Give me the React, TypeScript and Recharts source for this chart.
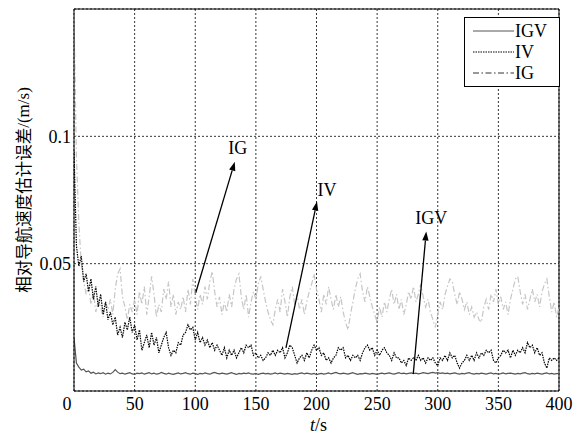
import React from "react"
import { CartesianGrid, Line, LineChart, ReferenceDot, ReferenceLine, XAxis, YAxis } from "recharts"

// sampling step of the recorded series, seconds
const STEP = 2

const igvErr = [
  0.021, 0.011, 0.0094, 0.0082, 0.0086, 0.0075, 0.0079, 0.007, 0.0074, 0.0067,
  0.0071, 0.0068, 0.0072, 0.0066, 0.007, 0.0067, 0.0073, 0.0084, 0.0074, 0.0068,
  0.007, 0.0066, 0.0069, 0.0072, 0.0067, 0.0065, 0.007, 0.0068, 0.0071, 0.0066,
  0.0069, 0.0072, 0.0067, 0.007, 0.0066, 0.0068, 0.0073, 0.0069, 0.0066, 0.007,
  0.0067, 0.0065, 0.0068, 0.0071, 0.0067, 0.0069, 0.0072, 0.0068, 0.0066, 0.007,
  0.0068, 0.0065, 0.0069, 0.0067, 0.0071, 0.0068, 0.0066, 0.007, 0.0073, 0.0069,
  0.0067, 0.007, 0.0068, 0.0066, 0.0069, 0.0072, 0.0068, 0.0065, 0.0069, 0.0067,
  0.007, 0.0068, 0.0071, 0.0067, 0.0066, 0.0069, 0.0065, 0.0068, 0.007, 0.0067,
  0.0069, 0.0066, 0.0068, 0.0071, 0.0067, 0.007, 0.0068, 0.0066, 0.0069, 0.0067,
  0.0065, 0.0068, 0.0066, 0.0069, 0.0071, 0.0067, 0.007, 0.0068, 0.0066, 0.0069,
  0.0064, 0.0067, 0.0069, 0.0066, 0.0068, 0.0071, 0.0067, 0.007, 0.0073, 0.0069,
  0.0067, 0.007, 0.0068, 0.0066, 0.0069, 0.0072, 0.0068, 0.0065, 0.0068, 0.0067,
  0.007, 0.0068, 0.0066, 0.0069, 0.0067, 0.0065, 0.0068, 0.007, 0.0067, 0.0069,
  0.0071, 0.0068, 0.0066, 0.0069, 0.0072, 0.0068, 0.007, 0.0067, 0.0069, 0.0071,
  0.0068, 0.007, 0.0067, 0.0069, 0.0072, 0.007, 0.0068, 0.0071, 0.0073, 0.007,
  0.0072, 0.0069, 0.0071, 0.0068, 0.007, 0.0067, 0.0069, 0.0071, 0.0068, 0.0066,
  0.0069, 0.0067, 0.007, 0.0072, 0.0068, 0.0066, 0.0069, 0.0067, 0.007, 0.0068,
  0.0066, 0.0069, 0.0071, 0.0067, 0.0069, 0.0066, 0.0068, 0.0071, 0.0067, 0.0069,
  0.007, 0.0068, 0.0066, 0.0069, 0.0067, 0.007, 0.0072, 0.0068, 0.0066, 0.0069,
  0.0067, 0.007, 0.0068, 0.0066, 0.0069, 0.0071, 0.0067, 0.0069, 0.0066, 0.0068,
  0.0069,
]

const ivErr = [
  0.094, 0.057, 0.049, 0.053, 0.043, 0.046, 0.039, 0.044, 0.036, 0.041,
  0.033, 0.038, 0.03, 0.035, 0.028, 0.031, 0.026, 0.029, 0.022, 0.025,
  0.021, 0.027, 0.024, 0.029, 0.023, 0.026, 0.02, 0.024, 0.016, 0.019,
  0.022, 0.017, 0.023, 0.018, 0.021, 0.015, 0.018, 0.021, 0.023, 0.017,
  0.014, 0.016, 0.015, 0.019, 0.018, 0.022, 0.023, 0.026, 0.024, 0.025,
  0.02, 0.023, 0.019, 0.021, 0.018, 0.02, 0.017, 0.019, 0.016, 0.018,
  0.016, 0.014, 0.017, 0.013, 0.016, 0.014, 0.016, 0.013, 0.015, 0.017,
  0.015, 0.018, 0.017, 0.018, 0.014, 0.015, 0.013, 0.014, 0.012, 0.013,
  0.015, 0.014, 0.016, 0.014, 0.016, 0.015, 0.017, 0.013, 0.015, 0.018,
  0.017, 0.014, 0.011, 0.013, 0.014, 0.012, 0.015, 0.013, 0.016, 0.018,
  0.016, 0.017, 0.014, 0.015, 0.012, 0.013, 0.011, 0.013, 0.014, 0.017,
  0.016, 0.017, 0.013, 0.014, 0.012, 0.014, 0.013, 0.014, 0.012, 0.015,
  0.017, 0.018, 0.016, 0.017, 0.014, 0.016, 0.014, 0.016, 0.017, 0.015,
  0.014, 0.012, 0.015, 0.013, 0.013, 0.011, 0.012, 0.01, 0.013, 0.012,
  0.013, 0.012, 0.014, 0.012, 0.013, 0.011, 0.013, 0.012, 0.013, 0.011,
  0.01, 0.013, 0.012, 0.014, 0.012, 0.015, 0.013, 0.014, 0.011, 0.009,
  0.011, 0.012, 0.014, 0.012, 0.014, 0.012, 0.015, 0.013, 0.015, 0.014,
  0.016, 0.015, 0.016, 0.012, 0.011, 0.013, 0.014, 0.016, 0.015, 0.016,
  0.013, 0.016, 0.014, 0.016, 0.015, 0.017, 0.015, 0.019, 0.017, 0.018,
  0.015, 0.017, 0.014, 0.015, 0.011, 0.009, 0.013, 0.012, 0.013, 0.012,
  0.013,
]

const igErr = [
  0.148, 0.092, 0.066, 0.05, 0.043, 0.038, 0.041, 0.034, 0.039, 0.031,
  0.036, 0.033, 0.029, 0.035, 0.032, 0.036, 0.03, 0.04, 0.046, 0.048,
  0.037, 0.033, 0.028, 0.034, 0.031, 0.036, 0.03, 0.039, 0.034, 0.041,
  0.03, 0.037, 0.045, 0.038, 0.029, 0.034, 0.031, 0.04, 0.036, 0.043,
  0.033, 0.038, 0.03, 0.035, 0.032, 0.037, 0.031, 0.04, 0.034, 0.044,
  0.037, 0.032, 0.038, 0.034, 0.041, 0.036, 0.043, 0.047, 0.039, 0.033,
  0.037, 0.03, 0.035, 0.031, 0.038, 0.033, 0.04, 0.044, 0.046, 0.037,
  0.032, 0.038, 0.029, 0.035, 0.039, 0.036, 0.042, 0.045, 0.04, 0.035,
  0.031, 0.028, 0.026, 0.032, 0.036, 0.031, 0.04, 0.035, 0.029, 0.037,
  0.041, 0.034, 0.038, 0.032, 0.036, 0.03, 0.035, 0.039, 0.042, 0.046,
  0.04, 0.036, 0.031, 0.038, 0.034, 0.041, 0.036, 0.032, 0.038, 0.033,
  0.037, 0.031, 0.027, 0.024, 0.03, 0.035, 0.04, 0.044, 0.046, 0.039,
  0.035, 0.041, 0.037, 0.033, 0.03, 0.027, 0.033, 0.029, 0.035, 0.031,
  0.036, 0.04, 0.034, 0.038, 0.032, 0.036, 0.03, 0.034, 0.039, 0.036,
  0.041, 0.035, 0.038, 0.042, 0.037, 0.033, 0.036, 0.031, 0.028, 0.025,
  0.03, 0.035, 0.032, 0.038, 0.041, 0.044, 0.043, 0.038, 0.034, 0.039,
  0.036, 0.032, 0.035, 0.03, 0.033, 0.029, 0.031, 0.028, 0.027, 0.033,
  0.036, 0.032, 0.038, 0.035, 0.04, 0.034, 0.037, 0.032, 0.035, 0.03,
  0.036, 0.04, 0.044, 0.045, 0.039, 0.034, 0.038, 0.032, 0.036, 0.04,
  0.035, 0.038, 0.033, 0.039, 0.042, 0.044, 0.037, 0.031, 0.035, 0.029,
  0.033,
]

const xTicks = [0, 50, 100, 150, 200, 250, 300, 350, 400]
const yTicks = [0.05, 0.1]

// arrows: label, tail (t, err), head (t, err), label anchor (t, err)
const noteNames = ["IG", "IV", "IGV"]
const noteTails = [[100.4, 0.0386], [174.8, 0.0169], [279.8, 0.0067]]
const noteHeads = [[132.6, 0.09], [200.4, 0.0744], [290.5, 0.0626]]
const noteSpots = [[135, 0.0953], [208.7, 0.079], [294.6, 0.068]]

const series = [
  { key: "igv", name: "IGV", color: "#555555", dash: undefined, width: 1.2 },
  { key: "iv", name: "IV", color: "#000000", dash: "1.5 1", width: 1.2 },
  { key: "ig", name: "IG", color: "#c6c6c6", dash: "6 2.5 1.5 2.5", width: 1.2 },
]

const data = igvErr.map((v, i) => ({ t: i * STEP, igv: v, iv: ivErr[i], ig: igErr[i] }))

const serif = "Liberation Serif, Times New Roman, serif"
const cjk = "Noto Sans CJK SC, sans-serif"

function Arrow(props: any) {
  const { x1, y1, x2, y2 } = props
  const a = Math.atan2(y2 - y1, x2 - x1)
  const len = 9
  const half = 3.2
  const bx = x2 - len * Math.cos(a)
  const by = y2 - len * Math.sin(a)
  const px = -Math.sin(a) * half
  const py = Math.cos(a) * half
  return (
    <g>
      <line x1={x1} y1={y1} x2={bx} y2={by} stroke="#000" strokeWidth={1.3} />
      <polygon points={`${x2},${y2} ${bx + px},${by + py} ${bx - px},${by - py}`} fill="#000" />
    </g>
  )
}

function XTick(props: any) {
  const { x, y, payload } = props
  const shift = payload.value === 0 ? -7 : 0
  return (
    <text x={x + shift} y={y} dy="0.71em" textAnchor="middle" fontFamily={serif} fontSize={18}
      style={{ fontFamily: serif, fontSize: 18 }} fill="#000">
      {payload.value}
    </text>
  )
}

function YTick(props: any) {
  const { x, y, payload } = props
  return (
    <text x={x} y={y} dy="0.35em" textAnchor="end" fontFamily={serif} fontSize={18}
      style={{ fontFamily: serif, fontSize: 18 }} fill="#000">
      {payload.value}
    </text>
  )
}

function XLabel(props: any) {
  const { x, y, width } = props.viewBox
  return (
    <text x={x + width / 2 + 2} y={y + 40} textAnchor="middle" fontFamily={serif}
      style={{ fontFamily: serif, fontSize: 18 }} fill="#000">
      <tspan fontStyle="italic">t</tspan>
      <tspan>/s</tspan>
    </text>
  )
}

function YLabel(props: any) {
  const { y, height } = props.viewBox
  const cy = y + height / 2 - 10
  return (
    <text x={23} y={cy} transform={`rotate(-90 23 ${cy})`} textAnchor="middle" dominantBaseline="central" fill="#000">
      <tspan style={{ fontFamily: cjk, fontSize: 16.5 }}>相对导航速度估计误差</tspan>
      <tspan style={{ fontFamily: serif, fontSize: 17 }}>/(m/s)</tspan>
    </text>
  )
}

function LegendBox() {
  return (
    <svg width={96} height={70} style={{ position: "absolute", left: 464, top: 17 }}>
      <rect x={0.5} y={0.5} width={95} height={69} fill="#fff" stroke="#000" strokeWidth={1} />
      {series.map((s, i) => (
        <g key={s.key}>
          <line x1={9} x2={50} y1={14 + i * 21} y2={14 + i * 21} stroke={s.key === "ig" ? "#333" : s.color}
            strokeWidth={1} strokeDasharray={s.dash} />
          <text x={51} y={14 + i * 21} dominantBaseline="central" style={{ fontFamily: serif, fontSize: 18 }} fill="#000">
            {s.name}
          </text>
        </g>
      ))}
    </svg>
  )
}

export default function App() {
  return (
    <div style={{ position: "absolute", left: 0, top: 0, width: 585, height: 439, background: "#fff" }}>
      <LineChart width={585} height={439} data={data} margin={{ top: 9, right: 26, bottom: 18, left: 0 }}>
        <CartesianGrid stroke="#000" strokeDasharray="2 2" strokeWidth={0.8} />
        <XAxis dataKey="t" type="number" domain={[0, 400]} ticks={xTicks} allowDataOverflow
          stroke="#000" tickLine={false} tickSize={0} tickMargin={6} height={30} tick={<XTick />}
          label={<XLabel />} />
        <YAxis type="number" domain={[0, 0.15]} ticks={yTicks} allowDataOverflow width={74}
          stroke="#000" tickLine={false} tickSize={0} tickMargin={3}
          tick={<YTick />} label={<YLabel />} />
        <ReferenceLine y={0.15} stroke="#000" strokeWidth={1} />
        <ReferenceLine x={400} stroke="#000" strokeWidth={1} />
        {[...series].reverse().map((s) => (
          <Line key={s.key} dataKey={s.key} name={s.name} type="linear" stroke={s.color} strokeWidth={s.width}
            strokeDasharray={s.dash} dot={false} isAnimationActive={false} />
        ))}
        {noteNames.map((n, i) => (
          <ReferenceLine key={n} segment={[{ x: noteTails[i][0], y: noteTails[i][1] }, { x: noteHeads[i][0], y: noteHeads[i][1] }]}
            shape={<Arrow />} />
        ))}
        {noteNames.map((n, i) => (
          <ReferenceDot key={"t" + n} x={noteSpots[i][0]} y={noteSpots[i][1]} r={1}
            shape={(p: any) => (
              <text x={p.cx} y={p.cy} textAnchor="middle" dominantBaseline="central" style={{ fontFamily: serif, fontSize: 18 }} fill="#000">
                {n}
              </text>
            )} />
        ))}
      </LineChart>
      <LegendBox />
    </div>
  )
}
